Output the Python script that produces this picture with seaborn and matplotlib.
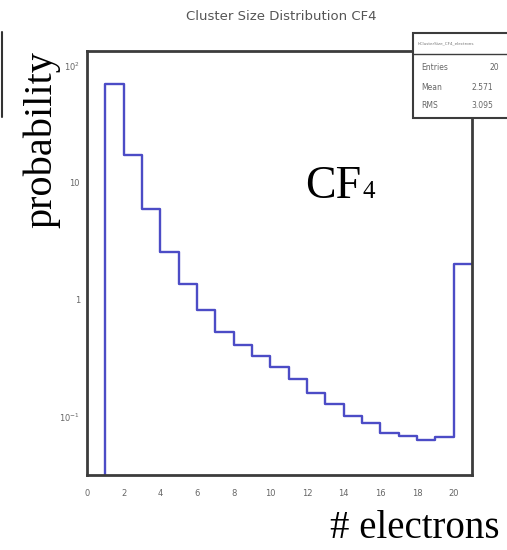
import numpy as np
import pandas as pd
import matplotlib
matplotlib.use("Agg")
import matplotlib.pyplot as plt
from matplotlib.ticker import MultipleLocator, LogLocator, FixedLocator, FuncFormatter
from matplotlib.patches import Rectangle
from matplotlib.lines import Line2D
import seaborn as sns

# Cluster size histogram for CF4: one bin per electron count
bin_edges = list(range(0, 22))
electrons = [0.5 + i for i in range(21)]
probability = [0.0, 70.2, 17.3, 6.0, 2.59, 1.36, 0.822, 0.530, 0.412, 0.330,
               0.268, 0.211, 0.161, 0.129, 0.101, 0.089, 0.073, 0.069, 0.064,
               0.067, 2.03]

x_ticks = [0, 2, 4, 6, 8, 10, 12, 14, 16, 18, 20]
y_ticks = [0.1, 1, 10, 100]
y_tick_labels = ["$10^{-1}$", "1", "10", "$10^{2}$"]

stats_labels = ["Entries", "Mean", "RMS"]
stats_values = ["20", "2.571", "3.095"]

sns.set_style("white")
plt.rcParams["font.family"] = ["DejaVu Sans"]

W, H = 507, 550
fig = plt.figure(figsize=(W / 100, H / 100), dpi=100)


def fx(px):
    return px / W


def fy(py):
    return 1 - py / H


ax = fig.add_axes([fx(87), fy(475), fx(472) - fx(87), fy(51) - fy(475)])

df = pd.DataFrame({"electrons": electrons, "probability": probability})
sns.histplot(data=df, x="electrons", weights="probability", bins=bin_edges,
             element="step", fill=False, color="#4c4cc6", linewidth=1.7, ax=ax)

ax.set_yscale("log")
ax.set_xlim(0, 21)
ax.set_ylim(0.0319, 134)
ax.set_xlabel("")
ax.set_ylabel("")

frame_color = "#3c3c3c"
for side in ["left", "right", "top", "bottom"]:
    ax.spines[side].set_visible(True)
    ax.spines[side].set_color(frame_color)
    ax.spines[side].set_linewidth(2.0)

ax.xaxis.set_major_locator(FixedLocator(x_ticks))
ax.xaxis.set_minor_locator(MultipleLocator(0.5))
ax.yaxis.set_major_locator(FixedLocator(y_ticks))
ax.yaxis.set_minor_locator(LogLocator(base=10, subs=np.arange(2, 10)))
ax.yaxis.set_major_formatter(
    FuncFormatter(lambda v, pos: dict(zip(y_ticks, y_tick_labels)).get(round(v, 6), "")))
ax.yaxis.set_minor_formatter(FuncFormatter(lambda v, pos: ""))

ax.tick_params(axis="both", which="both", direction="in", colors=frame_color,
               labelcolor="#666666", labelsize=6, top=False, right=False)
ax.tick_params(axis="y", which="major", length=8, width=1.2, pad=5)
ax.tick_params(axis="y", which="minor", length=4, width=1.0)
ax.tick_params(axis="x", which="major", length=8, width=1.2, pad=10)
ax.tick_params(axis="x", which="minor", length=4, width=1.0)
for lbl in ax.get_xticklabels() + ax.get_yticklabels():
    lbl.set_fontsize(6)

# Title
fig.text(fx(281), fy(16), "Cluster Size Distribution CF4", ha="center", va="center",
         fontsize=9.5, color="#555555")

# Axis titles in serif
serif = ["Liberation Serif", "DejaVu Serif"]
fig.text(fx(42), fy(140), "probability", rotation=90, ha="center", va="center",
         fontsize=29, family=serif, color="black")
fig.text(fx(500), fy(538), "# electrons", ha="right", va="baseline",
         fontsize=28, family=serif, color="black")

# Gas label, subscript placed right after the formula letters
cf = fig.text(fx(305), fy(198), "CF", ha="left", va="baseline", fontsize=33,
              family=serif, color="black")
fig.canvas.draw()
cf_right = cf.get_window_extent().x1
fig.text(cf_right / W + fx(1), fy(198), "4", ha="left", va="baseline", fontsize=18,
         family=serif, color="black")

# Statistics box
box = Rectangle((fx(413), fy(118)), fx(530) - fx(413), fy(33) - fy(118),
                transform=fig.transFigure, facecolor="white",
                edgecolor=frame_color, linewidth=1.5, zorder=10)
fig.add_artist(box)
fig.add_artist(Line2D([fx(413), fx(530)], [fy(54), fy(54)], transform=fig.transFigure,
                      color=frame_color, linewidth=1.0, zorder=11))
fig.text(fx(418), fy(43), "hClusterSize_CF4_electrons", ha="left", va="center",
         fontsize=3, color="#777777", zorder=12)
row_y = [68, 87, 106]
value_x = [490, 472, 471]
for name, val, ry, vx in zip(stats_labels, stats_values, row_y, value_x):
    fig.text(fx(421), fy(ry), name, ha="left", va="center", fontsize=5.5,
             color="#666666", zorder=12)
    fig.text(fx(vx), fy(ry), val, ha="left", va="center", fontsize=5.5,
             color="#666666", zorder=12)

# Left edge rule
fig.add_artist(Line2D([fx(1.5), fx(1.5)], [fy(32), fy(117)], transform=fig.transFigure,
                      color="#333333", linewidth=1.5))

fig.savefig("out.png", dpi=100)
